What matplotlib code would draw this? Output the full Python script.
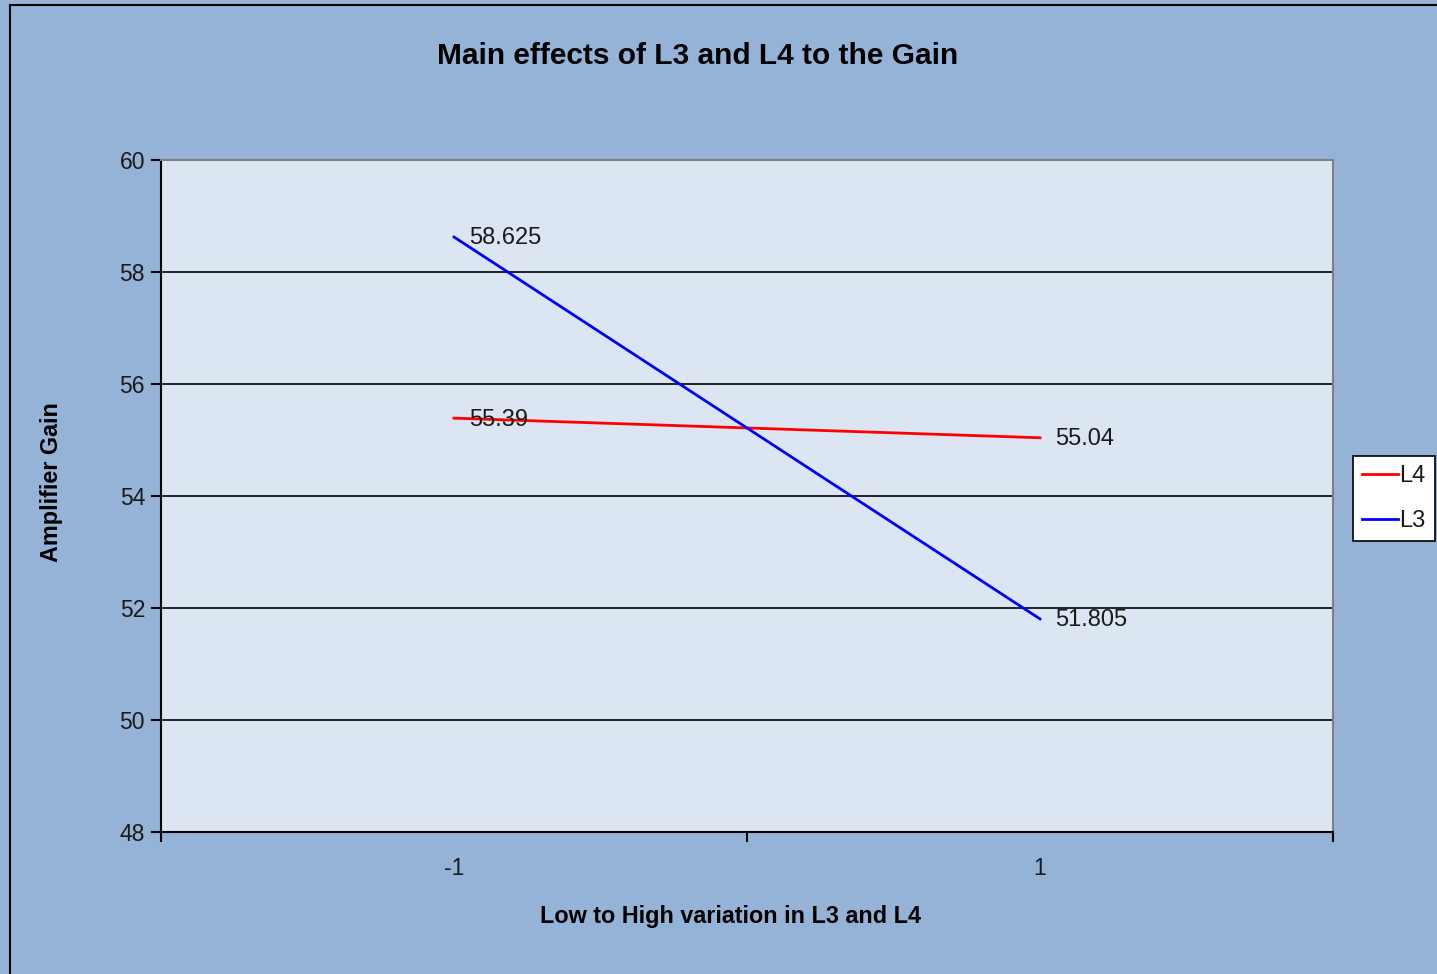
import matplotlib.pyplot as plt
from matplotlib.patches import Rectangle

# Main effect means at the low (-1) and high (+1) levels
levels = ["-1", "1"]
gain_l4 = [55.39, 55.04]
gain_l3 = [58.625, 51.805]
label_l4 = ["55.39", "55.04"]
label_l3 = ["58.625", "51.805"]

OUTER_BG = "#95B3D7"
PLOT_BG = "#DCE6F2"
TEXT = "#1a1a1a"

plt.rcParams["font.family"] = ["Liberation Sans", "DejaVu Sans"]

W, H = 1437, 974
fig = plt.figure(figsize=(W / 100, H / 100), dpi=100)
fig.patch.set_facecolor(OUTER_BG)

# chart frame (runs off the right and bottom edges)
fig.patches.append(Rectangle((10 / W, -0.05), 1.1, 1 - 5 / H + 0.05,
                             transform=fig.transFigure, facecolor="none",
                             edgecolor="black", linewidth=1.5))

ax = fig.add_axes([161 / W, 1 - 832 / H, (1333 - 161) / W, (832 - 160) / H])
ax.set_facecolor(PLOT_BG)

x = [i + 0.5 for i in range(len(levels))]
ax.plot(x, gain_l4, color="#FF0000", linewidth=2, label="L4", zorder=3)
ax.plot(x, gain_l3, color="#0000FF", linewidth=2, label="L3", zorder=3)

for xs, ys, labels in ((x, gain_l4, label_l4), (x, gain_l3, label_l3)):
    for xi, yi, t in zip(xs, ys, labels):
        ax.annotate(t, (xi, yi), xytext=(11, -1), textcoords="offset points",
                    va="center", ha="left", fontsize=17, color=TEXT, zorder=4)

ax.set_xlim(0, len(levels))
ax.set_ylim(48, 60)
ax.set_yticks(range(48, 61, 2))
ax.set_xticks(range(len(levels) + 1))
ax.set_xticklabels([])
ax.set_xticks(x, minor=True)
ax.set_xticklabels(levels, minor=True)
ax.tick_params(axis="x", which="minor", length=0, pad=18, labelsize=16.5,
               labelcolor=TEXT)
ax.tick_params(axis="x", which="major", direction="out", length=7, width=1.5)
ax.tick_params(axis="y", direction="out", length=7, width=1.5, labelsize=16.5,
               pad=4.5, labelcolor=TEXT)

ax.grid(axis="y", color="black", linewidth=1.2)
ax.set_axisbelow(True)
for s in ("left", "bottom"):
    ax.spines[s].set_color("black")
    ax.spines[s].set_linewidth(1.5)
for s in ("top", "right"):
    ax.spines[s].set_color("#808080")
    ax.spines[s].set_linewidth(1.5)

fig.text((437 + 958) / 2 / W, 1 - 56 / H, "Main effects of L3 and L4 to the Gain",
         ha="center", va="center", fontsize=21.5, fontweight="bold")
fig.text(730 / W, 1 - 916 / H, "Low to High variation in L3 and L4",
         ha="center", va="center", fontsize=16.8, fontweight="bold")
fig.text(52 / W, 1 - 482 / H, "Amplifier Gain", rotation=90,
         ha="center", va="center", fontsize=16.8, fontweight="bold")

leg = ax.legend(loc="upper left", bbox_to_anchor=(1353 / W, 1 - 456 / H),
                bbox_transform=fig.transFigure, frameon=True, fancybox=False,
                framealpha=1, fontsize=17, handlelength=1.5, handletextpad=0.05,
                borderpad=0.4, labelspacing=0.95, borderaxespad=0)
leg.get_frame().set_edgecolor("black")
leg.get_frame().set_linewidth(1.2)
leg.get_frame().set_facecolor("white")
for t in leg.get_texts():
    t.set_color(TEXT)

fig.savefig("out.png", dpi=100, facecolor=fig.get_facecolor())
